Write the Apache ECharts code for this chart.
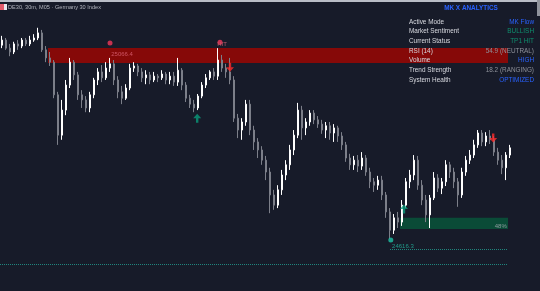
<!DOCTYPE html>
<html>
<head>
<meta charset="utf-8">
<script src="https://cdn.jsdelivr.net/npm/echarts@6/dist/echarts.min.js"></script>
<style>
html,body{margin:0;padding:0;background:#171b29;}
#c{width:540px;height:291px;}
</style>
</head>
<body>
<div id="c"></div>
<script>
// OHLC as [open, close, low, high]
const ohlc = [
[25073,25085,25066,25095],[25085,25066,25062,25090],[25066,25057,25047,25076],[25057,25076,25052,25081],
[25076,25071,25062,25085],[25071,25085,25066,25090],[25085,25076,25071,25090],[25076,25085,25071,25095],
[25085,25090,25081,25099],[25090,25102,25085,25114],[25102,25062,25057,25109],[25062,25043,25033,25071],
[25043,25033,25024,25057],[25033,24956,24948,25038],[24956,24861,24838,24963],[24861,24920,24850,24944],
[24920,24979,24908,24991],[24979,25033,24972,25043],[25033,25003,24991,25038],[25003,24956,24944,25010],
[24956,24944,24925,24967],[24944,24925,24915,24953],[24925,24956,24915,24963],[24956,24991,24948,24996],
[24991,25010,24979,25019],[25010,24996,24986,25026],[24996,25019,24991,25033],[25019,25029,25010,25043],
[25029,24991,24979,25038],[24991,24963,24948,25000],[24963,24948,24934,24977],[24948,24972,24944,24981],
[24972,25019,24967,25029],[25019,25024,25010,25033],[25024,25010,25000,25029],[25010,24996,24986,25019],
[24996,25003,24981,25014],[25003,24991,24981,25010],[24991,25000,24986,25010],[25000,24996,24986,25005],
[24996,25005,24991,25014],[25005,24991,24981,25010],[24991,25000,24981,25010],[25000,24986,24977,25010],
[24986,25014,24977,25043],[25014,24979,24967,25019],[24979,24948,24939,24986],[24948,24934,24925,24956],
[24934,24925,24915,24944],[24925,24953,24920,24958],[24953,24979,24948,24986],[24979,24996,24972,25005],
[24996,25010,24991,25014],[25010,25000,24991,25019],[25000,25038,24991,25066],[25038,25019,25010,25050],
[25019,25010,24996,25029],[25010,24991,24981,25043],[24991,24901,24892,25000],[24901,24873,24854,24911],
[24873,24892,24850,24901],[24892,24934,24883,24944],[24934,24873,24861,24944],[24873,24845,24826,24883],
[24845,24826,24807,24854],[24826,24802,24791,24835],[24802,24774,24755,24812],[24774,24720,24677,24784],
[24720,24696,24685,24732],[24696,24732,24689,24743],[24732,24767,24720,24779],[24767,24791,24755,24802],
[24791,24826,24779,24838],[24826,24861,24814,24873],[24861,24920,24854,24937],[24920,24878,24850,24930],
[24878,24892,24861,24901],[24892,24913,24883,24920],[24913,24897,24887,24920],[24897,24887,24878,24906],
[24887,24873,24864,24897],[24873,24883,24854,24892],[24883,24866,24850,24892],[24866,24878,24845,24887],
[24878,24859,24845,24883],[24859,24838,24826,24868],[24838,24807,24798,24845],[24807,24791,24779,24817],
[24791,24802,24779,24812],[24802,24788,24774,24814],[24788,24807,24779,24821],[24807,24774,24765,24814],
[24774,24751,24736,24784],[24751,24743,24727,24760],[24743,24755,24732,24765],[24755,24720,24708,24765],
[24720,24680,24666,24727],[24680,24637,24616.3,24689],[24637,24666,24628,24675],[24666,24656,24642,24680],
[24656,24696,24647,24708],[24696,24751,24689,24760],[24751,24767,24736,24779],[24767,24802,24755,24814],
[24802,24743,24732,24812],[24743,24708,24696,24755],[24708,24673,24656,24720],[24673,24713,24642,24720],
[24713,24760,24708,24774],[24760,24736,24727,24769],[24736,24751,24722,24760],[24751,24791,24741,24802],
[24791,24774,24760,24798],[24774,24751,24736,24784],[24751,24720,24692,24760],[24720,24774,24713,24784],
[24774,24802,24765,24812],[24802,24814,24793,24826],[24814,24838,24807,24850],[24838,24866,24831,24873],
[24866,24845,24835,24873],[24845,24859,24835,24868],[24859,24850,24840,24873],[24850,24821,24812,24859],
[24821,24802,24791,24831],[24802,24784,24769,24814],[24784,24814,24755,24821],[24814,24831,24807,24838]
];
const categories = ohlc.map((d, i) => String(i + 1));

// markers: [barIndex, price]
const pivotHighDots = [[27, 25078], [54.5, 25080]];
const pivotLowDots = [[97.2, 24614]];
const buyArrows = [[48.8, 24901], [100.5, 24687]];
const sellArrows = [[57, 25021], [122.8, 24854]];
const textMarks = [
  {pos: [27.3, 25052], text: '25066.4', color: '#e0677a', side: 'right'},
  {pos: [53.8, 25075], text: 'HIT', color: '#e0677a', side: 'right'},
  {pos: [97.5, 24600], text: '24616.3', color: '#22b9a0', side: 'right'},
  {pos: [126.2, 24647], text: '48%', color: '#a9acb4', side: 'left'}
];
// zones: [xStart, xEnd, priceTop, priceBottom]
const supplyZone = [11.5, 126.5, 25066.4, 25031];
const demandZone = [99.5, 126.5, 24666, 24640];
const levelLines = [[-0.5, 126.5, 24557], [97, 126.5, 24593]];

// panel
const panelTitle = 'MK X ANALYTICS';
const panelLabels = ['Active Mode','Market Sentiment','Current Status','RSI (14)','Volume','Trend Strength','System Health'];
const panelValues = ['MK Flow','BULLISH','TP1 HIT','54.9 (NEUTRAL)','HIGH','18.2 (RANGING)','OPTIMIZED'];
const panelColors = ['#2962ff','#0f8f6e','#0f8f6e','#8e919a','#2962ff','#8e919a','#2962ff'];
const headerText = 'DE30, 30m, M05 · Germany 30 Index';

const FONT = '"Liberation Sans", Arial, sans-serif';
const chart = echarts.init(document.getElementById('c'), null, {renderer: 'canvas'});

const graphics = [
  {type:'rect', shape:{x:0,y:0,width:540,height:2}, style:{fill:'#b9bdc6'}, z:100},
  {type:'rect', shape:{x:537,y:0,width:3,height:16}, style:{fill:'#8f939c'}, z:100},
  {type:'rect', shape:{x:0,y:4,width:4,height:6}, style:{fill:'#e35a6a'}, z:100},
  {type:'rect', shape:{x:4,y:4,width:3,height:6}, style:{fill:'#e8e8ee'}, z:100},
  {type:'text', x:8, y:7, style:{text:headerText, fill:'#b2b5be', font:'5.6px '+FONT, verticalAlign:'middle', textVerticalAlign:'middle'}, z:100},
  {type:'text', x:471, y:8, style:{text:panelTitle, fill:'#2962ff', font:'bold 6.4px '+FONT, align:'center', textAlign:'center', verticalAlign:'middle', textVerticalAlign:'middle'}, z:100}
];
panelLabels.forEach((t, i) => {
  const y = 22 + i * 9.65;
  graphics.push({type:'text', x:409, y:y, style:{text:t, fill:'#d8dae0', font:'6.4px '+FONT, verticalAlign:'middle', textVerticalAlign:'middle'}, z:100});
  graphics.push({type:'text', x:534, y:y, style:{text:panelValues[i], fill:panelColors[i], font:'6.4px '+FONT, align:'right', textAlign:'right', verticalAlign:'middle', textVerticalAlign:'middle'}, z:100});
});

const arrowUp = 'path://M5,0 L10,5 L6.5,5 L6.5,10 L3.5,10 L3.5,5 L0,5 Z';

chart.setOption({
  animation: false,
  backgroundColor: '#171b29',
  grid: {left: 0, right: 28, top: 0, bottom: 0},
  xAxis: [
    {type:'category', data: categories, boundaryGap: true, show: false},
    {type:'value', min: -0.5, max: ohlc.length - 0.5, show: false}
  ],
  yAxis: [{type:'value', min: 24493.6, max: 25179.5, show: false, splitLine:{show:false}}],
  graphic: graphics,
  series: [
    {
      type:'line', xAxisIndex:1, data:[], z:1, silent:true,
      markArea: {
        silent:true,
        data: [
          [{coord:[supplyZone[0], supplyZone[2]], itemStyle:{color:'rgba(140,8,6,0.95)'}}, {coord:[supplyZone[1], supplyZone[3]]}],
          [{coord:[demandZone[0], demandZone[2]], itemStyle:{color:'rgba(10,78,56,0.95)'}}, {coord:[demandZone[1], demandZone[3]]}]
        ]
      },
      markLine: {
        silent:true, symbol:['none','none'], label:{show:false},
        lineStyle:{color:'#1f857d', type:'dotted', width:1},
        data: levelLines.map(l => [{coord:[l[0], l[2]]}, {coord:[l[1], l[2]]}])
      }
    },
    {
      type:'candlestick', data: ohlc, z:2, barMaxWidth: 3,
      itemStyle: {color:'#ffffff', color0:'#7c7f89', borderColor:'#ffffff', borderColor0:'#7c7f89', borderWidth:1}
    },
    {type:'scatter', xAxisIndex:1, data: pivotHighDots, symbolSize:5, itemStyle:{color:'#f2385a'}, z:5},
    {type:'scatter', xAxisIndex:1, data: pivotLowDots, symbolSize:5, itemStyle:{color:'#1fc3a6'}, z:5},
    {type:'scatter', xAxisIndex:1, data: buyArrows, symbol: arrowUp, symbolSize:[8,9], itemStyle:{color:'#0a9a7a'}, z:5},
    {type:'scatter', xAxisIndex:1, data: sellArrows, symbol: arrowUp, symbolRotate:180, symbolSize:[8,9], itemStyle:{color:'#ff2a2a'}, z:5},
    {
      type:'scatter', xAxisIndex:1, symbolSize:0.1, z:6,
      data: textMarks.map(m => ({value: m.pos, label: {show:true, formatter: m.text, position: m.side, distance: 0, color: m.color, fontSize: 6, fontFamily: FONT}})),
      itemStyle:{color:'rgba(0,0,0,0)'}
    }
  ]
});
</script>
</body>
</html>
